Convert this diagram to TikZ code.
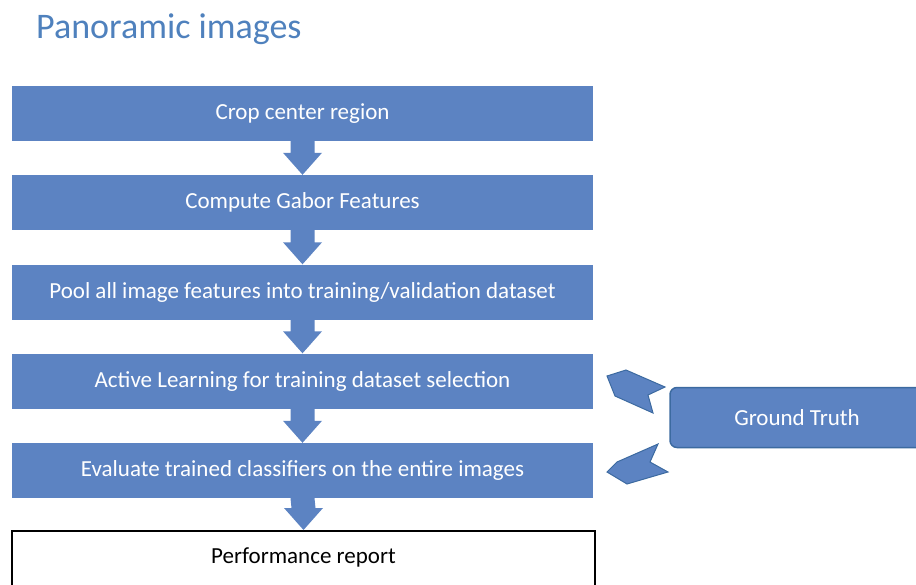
\documentclass[tikz,border=0pt]{standalone}
\usepackage{fontspec}
\setmainfont{Carlito}
\usetikzlibrary{calc}
\definecolor{boxblue}{RGB}{92,131,194}
\definecolor{edgeblue}{RGB}{60,106,160}
\definecolor{titleblue}{RGB}{79,129,189}
\tikzset{
  stepbox/.style={rectangle, fill=boxblue, draw=none, text=white, minimum width=581pt, minimum height=55pt, inner sep=0pt, font=\fontsize{23}{27}\selectfont},
  reportbox/.style={rectangle, fill=white, draw=black, line width=2pt, minimum width=583pt, minimum height=70pt, inner sep=0pt},
  reporttext/.style={text=black, inner sep=0pt, font=\fontsize{23}{27}\selectfont},
  gtbox/.style={rectangle, rounded corners=7pt, fill=boxblue, draw=edgeblue, line width=1.5pt, text=white, minimum width=254pt, minimum height=60pt, inner sep=0pt, font=\fontsize{23}{27}\selectfont},
  blockarrow/.style={fill=boxblue},
  chevron/.style={fill=boxblue, draw=edgeblue, line width=1pt, line join=miter},
  titletext/.style={text=titleblue, font=\fontsize{36}{40}\selectfont, inner sep=0pt, anchor=west}
}
\newcommand{\flowarrow}[2]{%
  \fill[blockarrow] ($(#1.south)+(-12,0)$) -- ($(#2.north)+(-12,-22)$) -- ($(#2.north)+(-19.5,-22)$) -- (#2.north) -- ($(#2.north)+(19.5,-22)$) -- ($(#2.north)+(12,-22)$) -- ($(#1.south)+(12,0)$) -- cycle;}
\begin{document}
\begin{tikzpicture}[x=1pt,y=-1pt]
\useasboundingbox (0,0) rectangle (916,584);
\node[titletext] (title) at (36,29) {Panoramic images};
\node[stepbox] (b1) at (302.5,113.5) {Crop center region};
\node[stepbox] (b2) at (302.5,202.5) {Compute Gabor Features};
\node[stepbox] (b3) at (302.5,292) {Pool all image features into training/validation dataset};
\node[stepbox] (b4) at (302.5,381) {Active Learning for training dataset selection};
\node[stepbox] (b5) at (302.5,470.5) {Evaluate trained classifiers on the entire images};
\node[reportbox] (b6) at (303.5,566) {};
\node[reporttext] (b6t) at ($(b6.north)+(0,27.5)$) {Performance report};
\node[gtbox] (gt) at (797,417.5) {Ground Truth};
\flowarrow{b1}{b2}
\flowarrow{b2}{b3}
\flowarrow{b3}{b4}
\flowarrow{b4}{b5}
\flowarrow{b5}{b6}
\filldraw[chevron] (607,376) -- (626,370) -- (665,387) -- (648,395) -- (653,413) -- (615,396) -- cycle;
\filldraw[chevron] (617,462) -- (658,444) -- (650,462) -- (668,472) -- (627,484) -- (607,472) -- cycle;
\end{tikzpicture}
\end{document}
